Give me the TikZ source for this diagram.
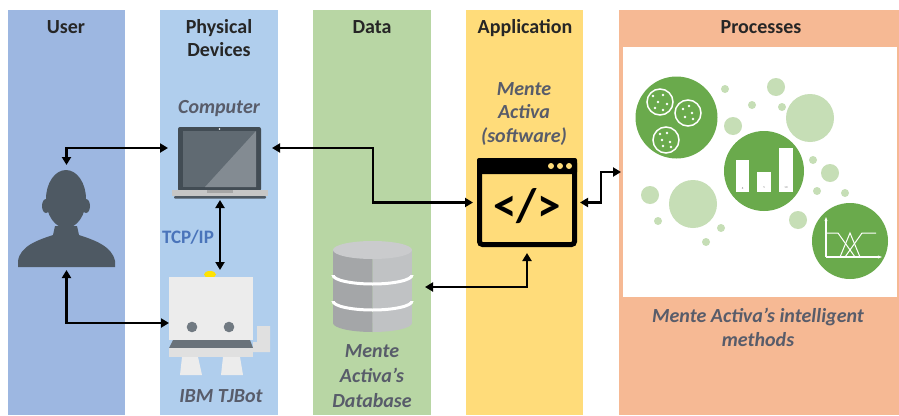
\documentclass[tikz,border=0pt]{standalone}
\usepackage{fontspec}
\setmainfont{Carlito}
\usepackage{xcolor}
\usepackage{tikz}
\usetikzlibrary{arrows.meta, positioning}

\definecolor{userblue}{RGB}{157,183,225}
\definecolor{devblue}{RGB}{176,206,237}
\definecolor{datagreen}{RGB}{184,214,164}
\definecolor{appyellow}{RGB}{255,220,122}
\definecolor{procpeach}{RGB}{246,185,148}
\definecolor{labelgrey}{RGB}{88,92,106}
\definecolor{tcpblue}{RGB}{74,116,186}
\definecolor{slate}{RGB}{78,89,99}
\definecolor{leafgreen}{RGB}{106,170,76}
\definecolor{palegreen}{RGB}{198,222,182}
\definecolor{dbdark}{RGB}{164,166,168}
\definecolor{dblight}{RGB}{192,194,196}
\definecolor{dbtop}{RGB}{202,203,205}
\definecolor{botgrey}{RGB}{236,236,236}

\tikzset{
  box/.style={inner sep=0pt, outer sep=0pt},
  heading/.style={font=\bfseries\fontsize{20}{23.5}\selectfont, text=black!85, align=center, anchor=base, inner sep=0pt},
  caption/.style={font=\bfseries\itshape\fontsize{20}{23.5}\selectfont, text=labelgrey, align=center, anchor=base, inner sep=0pt},
  link/.style={{Triangle[length=8pt,width=9pt]}-{Triangle[length=8pt,width=9pt]}, line width=2.5pt}
}

\begin{document}
\begin{tikzpicture}[x=1pt, y=-1pt]
\fill[white] (0,0) rectangle (899,415);
% lanes
\fill[userblue] (8,10) rectangle (125,415);
\fill[devblue] (160,10) rectangle (278,415);
\fill[datagreen] (313,10) rectangle (431,415);
\fill[appyellow] (466,10) rectangle (583,415);
\fill[procpeach] (619,10) rectangle (899,415);
\node[box, fill=white, minimum width=274pt, minimum height=250pt] (proc) at (760,172) {};

% multi-line labels sit on the baseline of their last line
\node[heading] (tUser) at (66,33) {User};
\node[heading] (tDev) at (219,56.5) {Physical\\Devices};
\node[heading] (tData) at (372,33) {Data};
\node[heading] (tApp) at (525,33) {Application};
\node[heading] (tProc) at (761,33) {Processes};

% user
\node[box, minimum width=97pt, minimum height=97pt] (user) at (66.5,218.5) {};
\fill[slate] (66,199) ellipse (20 and 29);
\fill[slate] (46,206) ellipse (4 and 7);
\fill[slate] (86,206) ellipse (4 and 7);
\fill[slate] (18,267) -- (18,261) .. controls (20,246) and (38,240) .. (53,235) -- (55,226) -- (77,226) -- (79,235) .. controls (94,240) and (112,246) .. (115,261) -- (115,267) -- cycle;

% computer
\node[caption] (lComp) at (219,113) {Computer};
\node[box, minimum width=96pt, minimum height=70pt] (laptop) at (220,162) {};
\fill[slate!85!black, rounded corners=2pt] (178,127) rectangle (261,191);
\fill[slate!90!white] (183,131) rectangle (256,187);
\fill[slate!70!white] (256,131) -- (256,187) -- (205,187) -- cycle;
\fill[white] (219.5,129) circle (0.8);
\fill[gray!45] (172,190) rectangle (268,196);
\fill[gray!70] (207,190) rectangle (233,192.5);
\fill[slate, rounded corners=1pt] (174,196) rectangle (266,198.5);

\node[caption, text=tcpblue, font=\bfseries\fontsize{19}{23}\selectfont] (lTcp) at (188,243) {TCP/IP};

% tjbot
\node[box, minimum width=84pt, minimum height=63pt] (tjbot) at (211,308.5) {};
\fill[yellow!85!orange] (210,274.5) ellipse (6 and 3.5);
\fill[botgrey] (169,277) rectangle (253,340);
\fill[botgrey!95!black] (253,342) -- (257,342) -- (257,326) -- (270,326) -- (270,352) -- (253,352) -- cycle;
\fill[slate!80] (192,327) circle (5.3);
\fill[slate!80] (229,327) circle (5.3);
\fill[slate!85] (173,340) -- (250,340) -- (253,348) -- (169,348) -- cycle;
\fill[botgrey!95!black] (169,348) rectangle (253,357);
\fill[botgrey] (182,357) -- (198,357) -- (202,375) -- (180,375) -- cycle;
\fill[botgrey] (223,357) -- (240,357) -- (243,375) -- (221,375) -- cycle;
\node[caption] (lBot) at (221,402) {IBM TJBot};

% database
\node[box, minimum width=79pt, minimum height=90pt] (db) at (372.5,287) {};
\begin{scope}
  \clip (330,230) rectangle (372.5,345);
  \fill[dbdark] (333,250) rectangle (412,323);
  \fill[dbdark] (372.5,323) ellipse (39.5 and 9);
\end{scope}
\begin{scope}
  \clip (372.5,230) rectangle (415,345);
  \fill[dblight] (333,250) rectangle (412,323);
  \fill[dblight] (372.5,323) ellipse (39.5 and 9);
\end{scope}
\fill[dbtop] (372.5,250) ellipse (39.5 and 9);
\foreach \y in {275,301} {
  \begin{scope}
    \clip (330,\y) rectangle (415,\y+12);
    \draw[white, line width=3pt] (372.5,\y) ellipse (39.5 and 9);
  \end{scope}
}
\node[caption, font=\bfseries\itshape\fontsize{20}{25}\selectfont] (lDb) at (372,407) {Mente\\Activa’s\\Database};

% application
\node[caption] (lApp) at (524,142) {Mente\\Activa\\(software)};
\node[box, minimum width=100pt, minimum height=89pt] (app) at (527,202.5) {};
\draw[line width=5pt, rounded corners=3pt] (479.5,160.5) rectangle (574.5,244.5);
\fill[rounded corners=2pt] (477,158) rectangle (577,174);
\foreach \dx in {0,9,18}
  \fill[appyellow] (551+\dx,166) circle (3);
\node[font=\bfseries\fontsize{47}{47}\selectfont] (code) at (527,206) {</>};

% processes
\foreach \x/\y/\r in {725/89/4, 776/87/9, 752/105/4, 782/107/4, 733/126/9, 810/118/24,
  813/160/4, 830/173/9, 817/191/4, 845/193/4, 798/220/9, 650/195/9, 693/204/24,
  658/221/4, 721/228/4, 706/242/4}
  \fill[palegreen] (\x,\y) circle (\r);
\fill[leafgreen] (676.5,117.5) circle (41);
\fill[leafgreen] (764,171) circle (40);
\fill[leafgreen] (850,241) circle (38);
% clusters
\foreach \x/\y in {660/102, 688/113, 666/140}
  \draw[white, line width=1.5pt] (\x,\y) circle (13);
\foreach \x/\y in {653/96, 663/95, 658/102, 667/104, 655/108, 663/110,
  683/109, 689/106, 692/113, 685/117, 693/119,
  660/134, 667/133, 662/140, 670/142, 663/146, 671/147}
  \fill[white] (\x,\y) circle (1.3);
% bars
\fill[white] (736,160) rectangle (749,192);
\fill[white] (757,172) rectangle (771,192);
\fill[white] (779,148) rectangle (793,192);
\node[font=\fontsize{3}{3}\selectfont, text=gray] (v8) at (742.5,188) {8};
\node[font=\fontsize{3}{3}\selectfont, text=gray] (v5) at (764,188) {5};
\node[font=\fontsize{3}{3}\selectfont, text=gray] (v10) at (786,188) {10};
% fuzzy sets
\draw[white, line width=1.5pt, -{Stealth[length=4pt]}] (826,257) -- (826,217);
\draw[white, line width=1.5pt, -{Stealth[length=4pt]}] (826,257) -- (882,257);
\draw[white, line width=1pt] (826,233) -- (838,233) -- (855,257);
\draw[white, line width=1pt] (840,257) -- (850,233) -- (860,257);
\draw[white, line width=1pt] (845,257) -- (862,233) -- (876,233);
\node[caption] (lProc) at (758,346) {Mente Activa’s intelligent\\methods};

% connectors
\draw[link, shorten <=5pt, shorten >=4pt] (user.north) |- ([yshift=14pt]laptop.west);
\draw[link, shorten <=3pt] (user.south) |- ([yshift=-14.5pt]tjbot.west);
\draw[link, shorten <=3pt, shorten >=7pt] (laptop.south) -- (laptop.south |- tjbot.north);
\draw[link, shorten <=4pt, shorten >=4pt] ([yshift=14pt]laptop.east) -- ++(105,0) |- (app.west);
\draw[link, shorten <=3pt, shorten >=2pt] (app.east) -- ++(24,0) |- (proc.west);
\draw[link, shorten <=13pt, shorten >=6pt] (db.east) -| (app.south);
\end{tikzpicture}
\end{document}
